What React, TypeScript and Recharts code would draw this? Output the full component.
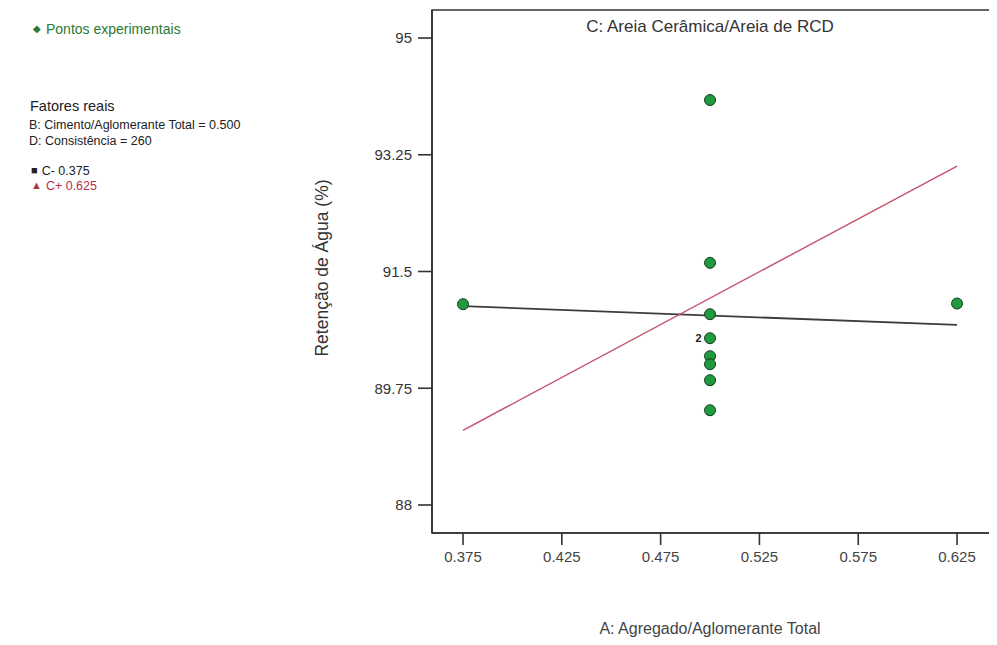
import {
  ComposedChart,
  Line,
  Scatter,
  XAxis,
  YAxis,
  ReferenceArea,
  LabelList,
} from 'recharts'

// Fator A nos extremos e no ponto central
const xTicks = [0.375, 0.425, 0.475, 0.525, 0.575, 0.625]
const yTicks = [88, 89.75, 91.5, 93.25, 95]
const xDomain: [number, number] = [0.3593, 0.6432]
const yDomain: [number, number] = [87.58, 95.42]

// Linhas de interação previstas para C- e C+
const cMinus = [
  { x: 0.375, y: 90.98 },
  { x: 0.625, y: 90.7 },
]
const cPlus = [
  { x: 0.375, y: 89.12 },
  { x: 0.625, y: 93.08 },
]

// Pontos experimentais
const points = [
  { x: 0.375, y: 91.01 },
  { x: 0.625, y: 91.02 },
  { x: 0.5, y: 94.07 },
  { x: 0.5, y: 91.63 },
  { x: 0.5, y: 90.86 },
  { x: 0.5, y: 90.23 },
  { x: 0.5, y: 90.11 },
  { x: 0.5, y: 89.87 },
  { x: 0.5, y: 89.42 },
]
// ponto com duas observações repetidas
const repeated = [{ x: 0.5, y: 90.5, n: 2 }]

const font = '"Liberation Sans", Arial, sans-serif'

function Dot(props: any) {
  const { cx, cy } = props
  if (cx == null || cy == null) return null
  return <circle cx={cx} cy={cy} r={5.5} fill="#1f9a3e" stroke="#123d1c" strokeWidth={1} />
}

export default function App() {
  return (
    <div style={{ position: 'relative', width: 997, height: 645, margin: -8, background: '#fff', fontFamily: font, color: '#333' }}>
      <div style={{ position: 'absolute', left: 33, top: 21, fontSize: 14, color: '#2b7a34' }}>
        <span style={{ fontSize: 10, marginRight: 5, position: 'relative', top: -2 }}>◆</span>Pontos experimentais
      </div>

      <div style={{ position: 'absolute', left: 30, top: 98, fontSize: 14.5, color: '#222' }}>Fatores reais</div>
      <div style={{ position: 'absolute', left: 29, top: 118, fontSize: 12.5, color: '#222' }}>B: Cimento/Aglomerante Total = 0.500</div>
      <div style={{ position: 'absolute', left: 29, top: 134, fontSize: 12.5, color: '#222' }}>D: Consistência = 260</div>
      <div style={{ position: 'absolute', left: 31, top: 164, fontSize: 12.5, color: '#222' }}>
        <span style={{ fontSize: 11, marginRight: 4, position: 'relative', top: -1 }}>■</span>C- 0.375
      </div>
      <div style={{ position: 'absolute', left: 31, top: 179, fontSize: 12.5, color: '#b3304a' }}>
        <span style={{ fontSize: 11, marginRight: 4, position: 'relative', top: -1 }}>▲</span>C+ 0.625
      </div>

      <div
        style={{
          position: 'absolute',
          left: 322,
          top: 268,
          fontSize: 17.5,
          color: '#333',
          whiteSpace: 'nowrap',
          transform: 'translate(-50%, -50%) rotate(-90deg)',
        }}
      >
        Retenção de Água (%)
      </div>

      <div style={{ position: 'absolute', left: 710, top: 17, transform: 'translateX(-50%)', fontSize: 17, color: '#333', whiteSpace: 'nowrap' }}>
        C: Areia Cerâmica/Areia de RCD
      </div>

      <div style={{ position: 'absolute', left: 710, top: 620, transform: 'translateX(-50%)', fontSize: 16, color: '#444', whiteSpace: 'nowrap' }}>
        A: Agregado/Aglomerante Total
      </div>

      <ComposedChart
        width={997}
        height={645}
        margin={{ top: 10, right: 4, left: 372, bottom: 82 }}
        style={{ position: 'absolute', left: 0, top: 0 }}
      >
        <XAxis
          type="number"
          dataKey="x"
          domain={xDomain}
          ticks={xTicks}
          allowDataOverflow
          tickFormatter={(v: number) => v.toFixed(3)}
          tickSize={12}
          tickMargin={6}
          height={30}
          stroke="#333"
          strokeWidth={1.6}
          tick={{ fill: '#444', fontSize: 15, fontFamily: font }}
        />
        <YAxis
          type="number"
          dataKey="y"
          domain={yDomain}
          ticks={yTicks}
          allowDataOverflow
          width={60}
          tickSize={14}
          tickMargin={6}
          stroke="#333"
          strokeWidth={1.6}
          tick={{ fill: '#333', fontSize: 15, fontFamily: font }}
        />
        <ReferenceArea
          x1={xDomain[0]}
          x2={xDomain[1]}
          y1={yDomain[0]}
          y2={yDomain[1]}
          fill="none"
          stroke="#333"
          strokeWidth={1.6}
          ifOverflow="visible"
        />
        <Line
          data={cMinus}
          dataKey="y"
          stroke="#3d3d3d"
          strokeWidth={1.8}
          dot={false}
          activeDot={false}
          isAnimationActive={false}
        />
        <Line
          data={cPlus}
          dataKey="y"
          stroke="#c4526c"
          strokeWidth={1.4}
          dot={false}
          activeDot={false}
          isAnimationActive={false}
        />
        <Scatter data={points} dataKey="y" shape={<Dot />} isAnimationActive={false} />
        <Scatter data={repeated} dataKey="y" shape={<Dot />} isAnimationActive={false}>
          <LabelList dataKey="n" position="left" offset={4} fill="#222" fontSize={11} fontWeight="bold" fontFamily={font} />
        </Scatter>
      </ComposedChart>
    </div>
  )
}
